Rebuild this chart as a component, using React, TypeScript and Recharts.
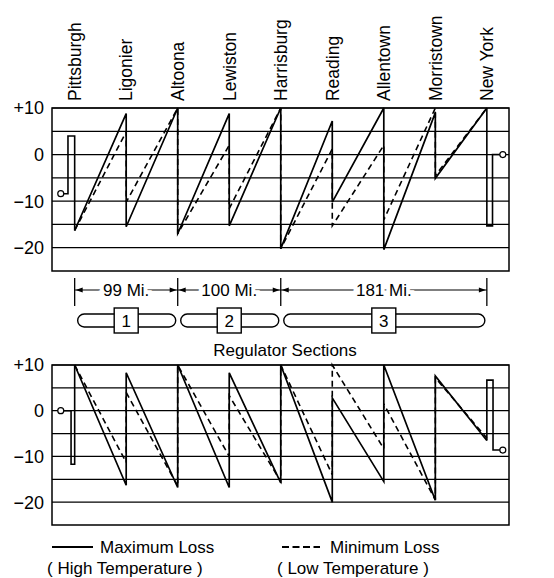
import React from "react";
import {
  ComposedChart,
  Line,
  Scatter,
  XAxis,
  YAxis,
  ReferenceLine,
  ReferenceArea,
} from "recharts";

// stations along the line, west to east
const stations = [
  "Pittsburgh",
  "Ligonier",
  "Altoona",
  "Lewiston",
  "Harrisburg",
  "Reading",
  "Allentown",
  "Morristown",
  "New York",
];

// sawtooth x sequence (station index, repeated where the curve jumps)
const sawX = [0, 1, 1, 2, 2, 3, 3, 4, 4, 5, 5, 6, 6, 7, 7, 8];

// upper diagram: voltage in one direction
const topMaxLoss = [-16.3, 8.8, -15.5, 10, -17, 8.8, -15.3, 10, -20.2, 7.2, -10.2, 10, -20.4, 9, -5.1, 10];
const topMinLoss = [-16.3, 4.9, -10.2, 10, -17, 2, -11.6, 10, -20.2, 1.2, -15.3, 2, -14, 10, -4.5, 10];

// lower diagram: voltage in the other direction
const bottomMaxLoss = [10, -16.3, 8.3, -16.8, 10, -16.8, 8.3, -15.8, 10, -20, 2.8, -15.5, 10, -19.6, 7.6, -6.5];
const bottomMinLoss = [10, -11.3, 4, -16.5, 10, -10, 3.3, -15.5, 10, -14, 10, -8.3, 1.5, -19.5, 7.2, -6];

// terminal regulator symbols
const topLeftRegX = [-0.27, -0.13, -0.13, 0, 0];
const topLeftRegY = [-8.4, -8.4, 4, 4, -16.3];
const topRightRegX = [8, 8, 8.11, 8.11, 8.31];
const topRightRegY = [10, -15.3, -15.3, 0, 0];
const bottomLeftRegX = [-0.27, -0.07, -0.07, 0, 0];
const bottomLeftRegY = [0, 0, -11.7, -11.7, 10];
const bottomRightRegX = [8, 8, 8.12, 8.12, 8.31];
const bottomRightRegY = [-6.5, 6.7, 6.7, -8.6, -8.6];
const topTerminalX = [-0.27, 8.31];
const topTerminalY = [-8.4, 0];
const bottomTerminalX = [-0.27, 8.31];
const bottomTerminalY = [0, -8.6];

const gridValues = [10, 5, 0, -5, -10, -15, -20];
const axisTicks = [10, 0, -10, -20];

// regulator sections
const sectionStart = [0, 2, 4];
const sectionEnd = [2, 4, 8];
const sectionMiles = ["99 Mi.", "100 Mi.", "181 Mi."];
const sectionNumber = ["1", "2", "3"];

const FONT = "'Liberation Sans', Arial, sans-serif";
const X_MIN = -0.44;
const X_MAX = 8.43;
const PLOT_LEFT = 52;
const PLOT_RIGHT = 509;

const pts = (xs: number[], ys: number[]) => xs.map((x, i) => ({ x, y: ys[i] }));

const px = (i: number) =>
  PLOT_LEFT + ((i - X_MIN) / (X_MAX - X_MIN)) * (PLOT_RIGHT - PLOT_LEFT);

const fmt = (v: number) => (v > 0 ? `+${v}` : v < 0 ? `\u2212${-v}` : "0");

const StationTick = ({ x, y, payload }: any) => (
  <text
    x={x}
    y={y}
    transform={`rotate(-90 ${x} ${y})`}
    textAnchor="start"
    dy="0.36em"
    fontSize={17.5}
    fontFamily={FONT}
    fill="#000"
  >
    {stations[payload.value]}
  </text>
);

const Terminal = (p: any) => (
  <circle cx={p.cx} cy={p.cy} r={3} fill="#fff" stroke="#000" strokeWidth={1.2} />
);

function Panel({ maxLoss, minLoss, regs, terminals, topAxis, height, margin }: any) {
  const tick = { fill: "#000", fontSize: 18, fontFamily: FONT };
  return (
    <ComposedChart width={554} height={height} margin={margin}>
      {topAxis ? (
        <XAxis
          xAxisId={0}
          orientation="top"
          dataKey="x"
          type="number"
          domain={[X_MIN, X_MAX]}
          allowDataOverflow
          ticks={stations.map((_, i) => i)}
          interval={0}
          tick={<StationTick />}
          tickLine={false}
          axisLine={false}
          tickMargin={1}
          height={100}
        />
      ) : (
        <XAxis
          xAxisId={0}
          dataKey="x"
          type="number"
          domain={[X_MIN, X_MAX]}
          allowDataOverflow
          hide
        />
      )}
      <YAxis
        yAxisId={0}
        type="number"
        domain={[-25, 10]}
        ticks={axisTicks}
        interval={0}
        tickFormatter={fmt}
        tick={tick}
        tickLine={false}
        axisLine={false}
        width={52}
      />
      <YAxis
        yAxisId="r"
        orientation="right"
        type="number"
        domain={[-25, 10]}
        ticks={axisTicks}
        interval={0}
        tickFormatter={fmt}
        tick={tick}
        tickLine={false}
        axisLine={false}
        width={45}
      />
      {gridValues.map((v) => (
        <ReferenceLine key={v} y={v} stroke="#000" strokeWidth={1.2} />
      ))}
      <ReferenceArea
        x1={X_MIN}
        x2={X_MAX}
        y1={-25}
        y2={10}
        fill="none"
        fillOpacity={0}
        stroke="#000"
        strokeWidth={1.5}
      />
      <Line
        data={pts(sawX, minLoss)}
        dataKey="y"
        type="linear"
        stroke="#000"
        strokeWidth={1.6}
        strokeDasharray="6 4"
        dot={false}
        isAnimationActive={false}
      />
      <Line
        data={pts(sawX, maxLoss)}
        dataKey="y"
        type="linear"
        stroke="#000"
        strokeWidth={1.7}
        dot={false}
        isAnimationActive={false}
      />
      {regs.map((r: any, i: number) => (
        <Line
          key={i}
          data={pts(r[0], r[1])}
          dataKey="y"
          type="linear"
          stroke="#000"
          strokeWidth={1.6}
          dot={false}
          isAnimationActive={false}
        />
      ))}
      <Scatter
        data={pts(terminals[0], terminals[1])}
        dataKey="y"
        shape={<Terminal />}
        isAnimationActive={false}
      />
    </ComposedChart>
  );
}

function Annotations() {
  const dimY = 290;
  const bounds = Array.from(new Set([...sectionStart, ...sectionEnd]));
  return (
    <svg
      width={554}
      height={578}
      style={{ position: "absolute", left: 0, top: 0, pointerEvents: "none" }}
      fontFamily={FONT}
    >
      {bounds.map((b) => (
        <line key={b} x1={px(b)} x2={px(b)} y1={278} y2={306} stroke="#000" strokeWidth={1.3} />
      ))}
      {sectionStart.map((s, i) => {
        const a = px(s);
        const b = px(sectionEnd[i]);
        const mid = (a + b) / 2;
        return (
          <g key={i}>
            <line x1={a} x2={b} y1={dimY} y2={dimY} stroke="#000" strokeWidth={1.2} />
            <polygon points={`${a + 1},${dimY} ${a + 8},${dimY - 2.5} ${a + 8},${dimY + 2.5}`} fill="#000" />
            <polygon points={`${b - 1},${dimY} ${b - 8},${dimY - 2.5} ${b - 8},${dimY + 2.5}`} fill="#000" />
            <text
              x={mid}
              y={dimY + 6}
              textAnchor="middle"
              fontSize={17}
              fill="#000"
              stroke="#fff"
              strokeWidth={8}
              paintOrder="stroke"
            >
              {sectionMiles[i]}
            </text>
            <rect
              x={a + 3}
              y={314}
              width={b - a - 5}
              height={13}
              rx={6.5}
              fill="#fff"
              stroke="#000"
              strokeWidth={1.4}
            />
            <rect x={mid - 12} y={308} width={24} height={25} fill="#fff" stroke="#000" strokeWidth={1.4} />
            <text x={mid} y={327} textAnchor="middle" fontSize={17} fill="#000">
              {sectionNumber[i]}
            </text>
          </g>
        );
      })}
      <text x={285} y={356} textAnchor="middle" fontSize={17} fill="#000">
        Regulator Sections
      </text>

      {/* legend */}
      <line x1={52} x2={93} y1={547} y2={547} stroke="#000" strokeWidth={1.8} />
      <text x={100} y={553} fontSize={17} fill="#000">Maximum Loss</text>
      <text x={47} y={574} fontSize={17} fill="#000">( High Temperature )</text>
      <line x1={282} x2={320} y1={547} y2={547} stroke="#000" strokeWidth={1.8} strokeDasharray="7 3.5" />
      <text x={330} y={553} fontSize={17} fill="#000">Minimum Loss</text>
      <text x={277} y={574} fontSize={17} fill="#000">( Low Temperature )</text>
    </svg>
  );
}

export default function App() {
  return (
    <div
      style={{
        position: "absolute",
        left: 0,
        top: 0,
        width: 554,
        height: 578,
        background: "#fff",
        fontFamily: FONT,
      }}
    >
      <div style={{ position: "absolute", left: 0, top: 0 }}>
        <Panel
          maxLoss={topMaxLoss}
          minLoss={topMinLoss}
          regs={[
            [topLeftRegX, topLeftRegY],
            [topRightRegX, topRightRegY],
          ]}
          terminals={[topTerminalX, topTerminalY]}
          topAxis
          height={280}
          margin={{ top: 8, right: 0, bottom: 9, left: 0 }}
        />
      </div>
      <div style={{ position: "absolute", left: 0, top: 355 }}>
        <Panel
          maxLoss={bottomMaxLoss}
          minLoss={bottomMinLoss}
          regs={[
            [bottomLeftRegX, bottomLeftRegY],
            [bottomRightRegX, bottomRightRegY],
          ]}
          terminals={[bottomTerminalX, bottomTerminalY]}
          topAxis={false}
          height={178}
          margin={{ top: 10, right: 0, bottom: 8, left: 0 }}
        />
      </div>
      <Annotations />
    </div>
  );
}
